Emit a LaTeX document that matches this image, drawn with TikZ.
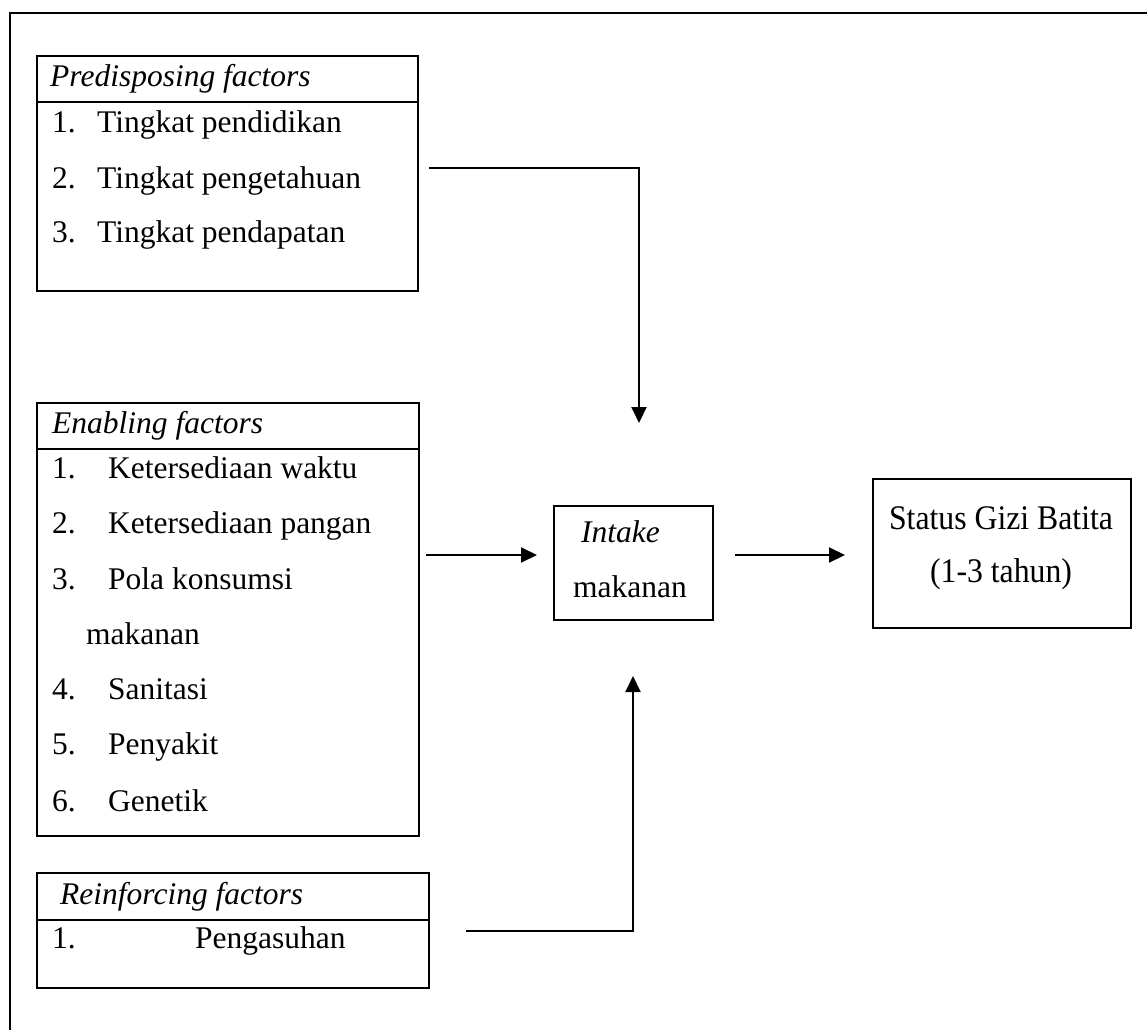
\documentclass[tikz,border=0pt]{standalone}
\usepackage{graphicx}
\usepackage{fontspec}
\setmainfont{Liberation Serif}
\usetikzlibrary{arrows.meta}
\begin{document}
\begin{tikzpicture}[x=1pt,y=-1pt,
  frame/.style={line width=2pt},
  box/.style={draw, line width=2pt, rectangle, inner sep=0pt, anchor=north west},
  sep/.style={line width=2pt},
  txt/.style={anchor=base west, inner sep=0pt, font=\fontsize{31.5}{38}\selectfont},
  ctxt/.style={anchor=base, inner sep=0pt, font=\fontsize{34.5}{40}\selectfont},
  conn/.style={line width=2pt},
  arr/.style={line width=2pt, -{Triangle[length=16pt,width=15pt]}}
]
\useasboundingbox (0,0) rectangle (1147,1030);
\fill[white] (0,0) rectangle (1147,1030);
% outer frame (top and left only)
\coordinate (fTL) at (10,13);
\coordinate (fTR) at (1147,13);
\coordinate (fBL) at (10,1030);
\draw[frame] (fTR) -- (fTL) -- (fBL);

% Predisposing box
\node[box, minimum width=381pt, minimum height=235pt] (pre) at (36,55) {};
\draw[sep] (pre.west |- 0,102) -- (pre.east |- 0,102);
\node[txt] (preT) at (50,87) {\itshape Predisposing factors};
\node[txt] (pre1n) at (52,132) {1.};
\node[txt] (pre1) at (97,132) {Tingkat pendidikan};
\node[txt] (pre2n) at (52,188) {2.};
\node[txt] (pre2) at (97,188) {Tingkat pengetahuan};
\node[txt] (pre3n) at (52,242) {3.};
\node[txt] (pre3) at (97,242) {Tingkat pendapatan};

% Enabling box
\node[box, minimum width=382pt, minimum height=433pt] (en) at (36,402) {};
\draw[sep] (en.west |- 0,449) -- (en.east |- 0,449);
\node[txt] (enT) at (52,433) {\itshape Enabling factors};
\node[txt] (en1n) at (52,478) {1.};
\node[txt] (en1) at (108,478) {Ketersediaan waktu};
\node[txt] (en2n) at (52,533) {2.};
\node[txt] (en2) at (108,533) {Ketersediaan pangan};
\node[txt] (en3n) at (52,589) {3.};
\node[txt] (en3) at (108,589) {Pola konsumsi};
\node[txt] (en3b) at (86,644) {makanan};
\node[txt] (en4n) at (52,699) {4.};
\node[txt] (en4) at (108,699) {Sanitasi};
\node[txt] (en5n) at (52,754) {5.};
\node[txt] (en5) at (108,754) {Penyakit};
\node[txt] (en6n) at (52,811) {6.};
\node[txt] (en6) at (108,811) {Genetik};

% Reinforcing box
\node[box, minimum width=392pt, minimum height=115pt] (re) at (36,872) {};
\draw[sep] (re.west |- 0,920) -- (re.east |- 0,920);
\node[txt] (reT) at (60,904) {\itshape Reinforcing factors};
\node[txt] (re1n) at (52,948) {1.};
\node[txt] (re1) at (195,948) {Pengasuhan};

% Intake box
\node[box, minimum width=159pt, minimum height=114pt] (in) at (553,505) {};
\node[txt] (inT) at (581,542) {\itshape Intake};
\node[txt] (inM) at (573,597) {makanan};

% Status box
\node[box, minimum width=258pt, minimum height=149pt] (st) at (872,478) {};
\node[ctxt] (st1) at (1001,529) {\scalebox{0.92}[1]{Status Gizi Batita}};
\node[ctxt] (st2) at (1001,582) {\scalebox{0.92}[1]{(1-3 tahun)}};

% connectors
\coordinate (preOut) at (429,168);
\coordinate (preTip) at (639,423);
\draw[arr] (preOut) -| (preTip);

\coordinate (enOut) at (426,555);
\coordinate (enTip) at (537,555);
\draw[arr] (enOut) -- (enTip);

\coordinate (inOut) at (735,555);
\coordinate (inTip) at (845,555);
\draw[arr] (inOut) -- (inTip);

\coordinate (reOut) at (466,931);
\coordinate (reTip) at (633,676);
\draw[arr] (reOut) -| (reTip);
\end{tikzpicture}
\end{document}
